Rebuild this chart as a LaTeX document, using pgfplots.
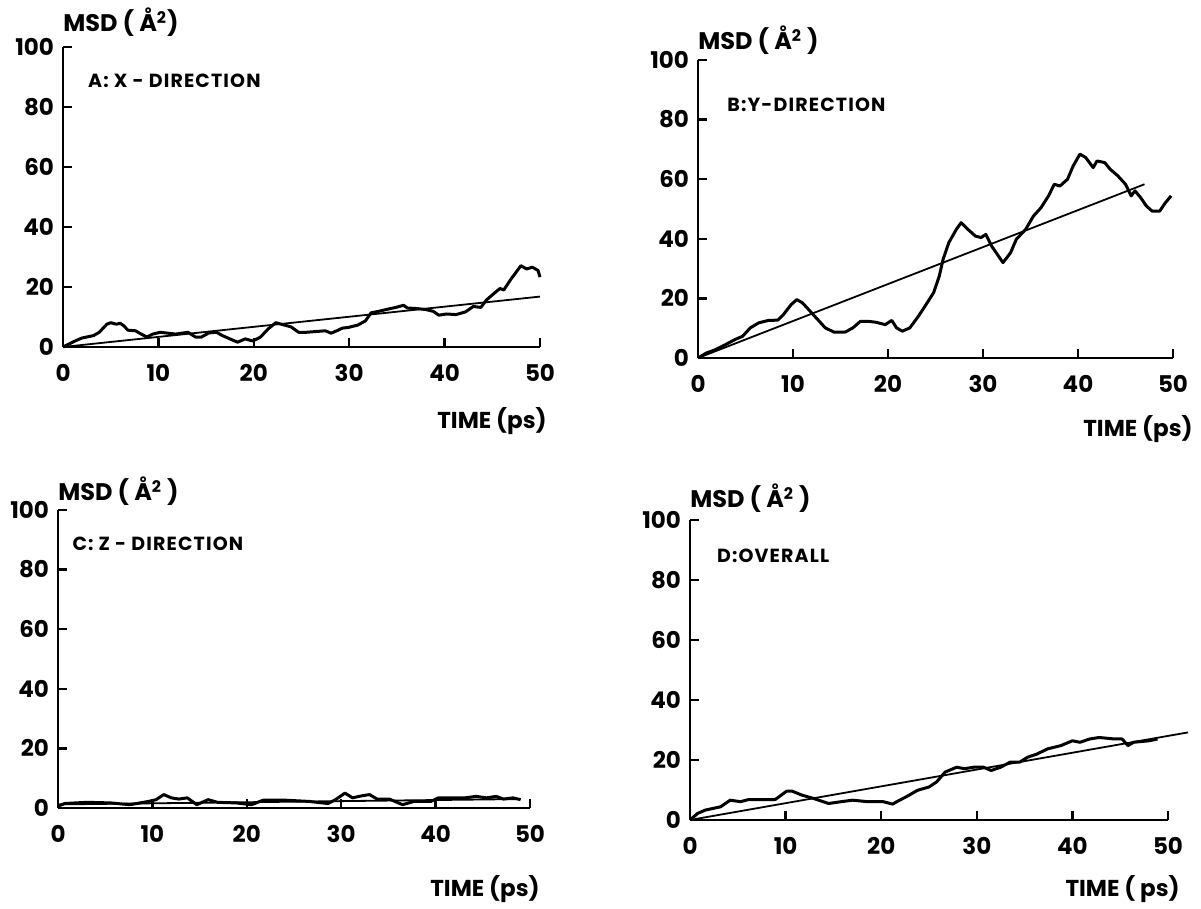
\documentclass[border=0pt]{standalone}
\usepackage{fontspec}
\setmainfont{Poppins}
\newfontfamily\spacedfont{Poppins}[LetterSpace=6]
\usepackage{pgfplots}
\pgfplotsset{compat=1.18}
\pgfplotsset{msd/.style={
  scale only axis, anchor=south west, xmin=0, xmax=50, ymin=0, ymax=100,
  axis x line=bottom, axis y line=left, axis line style={-, line width=1.2pt},
  tick align=inside, major tick length=4.5pt, tick style={line width=1.2pt, black},
  xtick={0,10,...,50}, ytick={0,20,...,100},
  /pgf/number format/assume math mode=true,
  ticklabel style={font=\bfseries\fontsize{11.5}{13}\selectfont},
  xticklabel style={yshift=-5pt}, yticklabel style={xshift=-1pt},
  clip=false,
}}
\tikzset{
curve/.style={black, line width=1.5pt, line join=round},
fit/.style={black, line width=0.9pt},
ttl/.style={anchor=west, inner sep=0pt, font=\spacedfont\bfseries\fontsize{9.5}{11}\selectfont},
msdl/.style={anchor=base west, inner sep=0pt, font=\bfseries\fontsize{12}{14}\selectfont},
timel/.style={anchor=north east, inner sep=0pt, font=\bfseries\fontsize{11.5}{13}\selectfont},
}
\begin{document}
\begin{tikzpicture}
\path (0,0) rectangle (600.5pt,454.5pt);
% A
\begin{axis}[msd, at={(31.5pt,281pt)}, width=238.5pt, height=150pt]
\addplot[curve] coordinates {(0,0) (1.4,2.2) (2,3) (3.2,3.8) (3.8,4.9) (4.6,7.6) (5.0,8.1) (5.6,7.6) (6.0,7.9) (6.4,7.0) (6.8,5.6) (7.6,5.4) (8.2,4.3) (8.8,3.3) (9.4,4.3) (10.2,4.9) (11.8,4.3) (13.1,4.9) (13.9,3.3) (14.5,3.3) (15.3,4.7) (16.1,4.9) (16.7,3.8) (17.5,2.7) (18.3,1.6) (19.1,2.7) (19.9,2.0) (20.7,3.3) (21.5,6.0) (22.3,8.1) (23.1,7.4) (23.9,6.7) (24.7,4.9) (25.5,4.9) (26.3,5.1) (27.5,5.4) (28.1,4.6) (28.7,5.4) (29.3,6.3) (29.9,6.5) (30.9,7.3) (31.7,8.7) (32.3,11.4) (33.1,11.9) (33.9,12.5) (34.9,13.2) (35.7,13.9) (36.1,13.0) (37.1,12.8) (38.0,12.5) (38.8,11.9) (39.4,10.6) (40.2,11.0) (41.2,10.8) (42.2,11.7) (43.0,13.5) (43.8,13.2) (44.4,15.7) (45.2,17.9) (45.8,19.5) (46.2,19.0) (47.0,22.8) (48.0,27.1) (48.6,26.0) (49.2,26.6) (49.8,25.5) (50.0,23.3)};
\addplot[fit] coordinates {(0,0) (50,16.8)};
\node[ttl] at (axis cs:2.6,88.7) {A: X - DIRECTION};
\node[msdl] at ([yshift=7.5pt]rel axis cs:0,1) {MSD ( Å\textsuperscript{2})};
\node[timel] at ([xshift=3.5pt,yshift=-30pt]rel axis cs:1,0) {TIME (ps)};
\end{axis}
% B
\begin{axis}[msd, at={(349pt,275.5pt)}, width=237.5pt, height=149pt]
\addplot[curve] coordinates {(0,0) (0.9,1.7) (1.7,2.6) (2.9,4.5) (3.9,6.2) (4.7,7.3) (5.5,10.1) (6.4,11.8) (7.4,12.6) (8.4,12.7) (9.0,14.6) (9.8,17.9) (10.4,19.6) (11.0,18.5) (11.8,15.7) (12.6,12.9) (13.4,10.1) (14.3,8.7) (15.5,8.7) (16.3,10.1) (17.1,12.3) (17.9,12.3) (18.7,12.0) (19.7,11.2) (20.4,12.6) (20.9,10.1) (21.5,9.0) (22.3,10.1) (23.2,14.0) (24.0,17.9) (24.8,21.9) (25.4,27.5) (25.8,33.1) (26.4,38.7) (27.2,43.2) (27.7,45.4) (28.4,43.2) (29.2,40.9) (29.8,40.4) (30.3,41.5) (30.9,37.6) (31.5,34.8) (32.1,32.0) (32.9,35.3) (33.5,39.8) (34.5,43.2) (35.3,47.6) (36.1,50.4) (36.9,54.4) (37.5,58.3) (38.1,57.7) (38.9,60.0) (39.5,64.5) (40.2,68.4) (40.8,67.3) (41.6,63.9) (42.0,66.1) (42.8,65.6) (43.4,63.3) (44.2,61.1) (45.0,58.3) (45.6,54.4) (46.0,56.1) (46.6,53.8) (47.2,51.0) (47.8,49.3) (48.6,49.3) (49.2,52.1) (49.8,54.4)};
\addplot[fit] coordinates {(0,0) (47,58.3)};
\node[ttl] at (axis cs:3.05,85) {B:Y-DIRECTION};
\node[msdl] at ([yshift=5pt]rel axis cs:0,1) {MSD ( Å\textsuperscript{2} )};
\node[timel] at ([xshift=10pt,yshift=-28.5pt]rel axis cs:1,0) {TIME (ps)};
\end{axis}
% C
\begin{axis}[msd, at={(29pt,50.5pt)}, width=236pt, height=149pt]
\addplot[curve] coordinates {(0,0.6) (0.7,1.5) (3.1,1.9) (5.6,1.7) (7.6,1.1) (9.6,2.2) (10.4,2.8) (11.2,4.5) (12.0,3.4) (12.8,3.0) (13.7,3.4) (14.7,1.1) (15.9,2.8) (16.9,1.9) (18.9,1.7) (20.5,1.1) (21.7,2.6) (24.2,2.6) (26.6,2.2) (28.6,1.5) (29.4,2.8) (30.4,5.0) (31.2,3.4) (32.2,4.1) (33.0,4.5) (33.8,3.0) (35.1,3.0) (36.5,1.1) (37.7,2.2) (39.5,2.2) (40.3,3.4) (41.5,3.4) (43.1,3.4) (44.3,3.9) (45.4,3.4) (46.4,3.9) (47.2,3.0) (48.2,3.4) (49.0,2.8)};
\addplot[fit] coordinates {(0,1.2) (49,3.0)};
\node[ttl] at (axis cs:1.5,88.6) {C: Z - DIRECTION};
\node[msdl] at ([yshift=4.5pt]rel axis cs:0,1) {MSD ( Å\textsuperscript{2} )};
\node[timel] at ([xshift=5pt,yshift=-33.5pt]rel axis cs:1,0) {TIME (ps)};
\end{axis}
% D
\begin{axis}[msd, at={(345pt,44.5pt)}, width=239pt, height=150pt]
\addplot[curve] coordinates {(0,0) (0.8,2.2) (1.6,3.3) (3.2,4.4) (4.2,6.6) (5.3,6.1) (6.1,6.8) (8.9,6.8) (9.3,7.7) (10.1,9.6) (10.7,9.6) (11.7,8.3) (12.9,7.2) (14.5,5.5) (15.8,6.1) (17.0,6.6) (18.6,6.1) (20.2,6.1) (21.2,5.3) (21.8,6.4) (22.6,7.7) (23.8,9.9) (25.0,11.0) (25.8,12.7) (26.7,16.0) (27.9,17.6) (28.7,17.1) (29.7,17.6) (30.7,17.6) (31.5,16.5) (32.5,17.6) (33.5,19.3) (34.5,19.3) (35.3,20.9) (36.3,22.0) (37.4,23.7) (38.8,24.8) (40.0,26.4) (40.8,25.9) (41.8,27.0) (42.8,27.5) (44.4,27.0) (45.2,27.0) (45.8,24.8) (46.4,25.9) (48.0,26.4) (48.9,27.0)};
\addplot[fit] coordinates {(0,0) (52.1,29.2)};
\node[ttl] at (axis cs:2.8,88) {D:OVERALL};
\node[msdl] at ([yshift=6pt]rel axis cs:0,1) {MSD ( Å\textsuperscript{2} )};
\node[timel] at ([xshift=6pt,yshift=-27.5pt]rel axis cs:1,0) {TIME ( ps)};
\end{axis}
\end{tikzpicture}
\end{document}
